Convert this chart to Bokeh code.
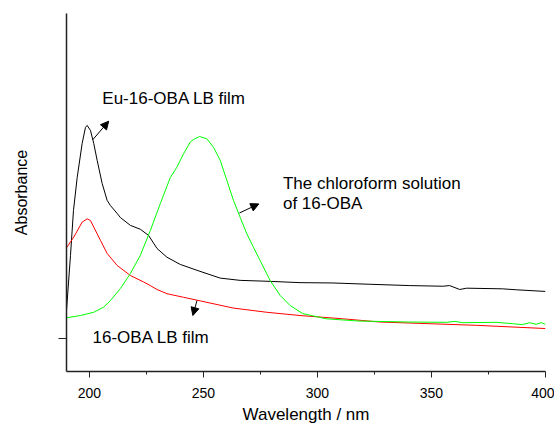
from bokeh.plotting import figure
from bokeh.models import Range1d, FixedTicker, Arrow, NormalHead, ColumnDataSource
from bokeh.core.properties import value
from bokeh.embed import file_html
from bokeh.resources import INLINE

# Eu-16-OBA LB film (black)
eu_wl = [190.0, 191.75, 193.06, 194.68, 196.87, 198.31, 199.06, 200.5, 201.94, 203.43,
         205.62, 207.81, 209.25, 212.18, 213.63, 218.0, 222.38, 226.0, 229.68, 234.06,
         239.88, 247.18, 257.38, 266.13, 279.25, 292.38, 306.81, 323.0, 340.5, 354.94,
         358.0, 362.38, 365.44, 381.19, 387.31, 400.0]
eu_abs = [0.088, 0.257, 0.395, 0.496, 0.601, 0.650, 0.656, 0.641, 0.601, 0.549,
          0.478, 0.426, 0.410, 0.386, 0.373, 0.349, 0.337, 0.318, 0.278, 0.251,
          0.229, 0.211, 0.187, 0.180, 0.177, 0.173, 0.172, 0.168, 0.164, 0.162,
          0.164, 0.152, 0.156, 0.154, 0.151, 0.146]

# 16-OBA LB film (red)
lb_wl = [190.0, 193.19, 196.87, 199.06, 200.5, 201.94, 204.88, 207.81, 212.18, 218.0,
         223.82, 226.75, 229.68, 234.06, 241.32, 248.63, 263.06, 277.81, 292.38, 311.06,
         327.38, 340.06, 369.38, 400.0]
lb_abs = [0.280, 0.313, 0.359, 0.369, 0.364, 0.344, 0.303, 0.263, 0.226, 0.195,
          0.175, 0.164, 0.152, 0.139, 0.128, 0.117, 0.095, 0.082, 0.072, 0.062,
          0.052, 0.049, 0.042, 0.032]

# Chloroform solution of 16-OBA (green)
cs_wl = [190.0, 196.13, 201.94, 206.32, 209.25, 213.63, 218.0, 222.38, 226.75, 231.13,
         235.5, 238.43, 241.32, 244.25, 245.69, 248.32, 251.56, 254.44, 257.38, 260.31,
         263.19, 266.13, 269.06, 271.94, 274.88, 279.25, 283.63, 288.0, 293.56, 303.75,
         318.19, 340.06, 356.56, 360.19, 363.69, 378.43, 385.56, 389.94, 393.0, 395.93,
         398.12, 400.0]
cs_abs = [0.065, 0.072, 0.082, 0.098, 0.118, 0.155, 0.201, 0.257, 0.333, 0.416,
          0.496, 0.528, 0.569, 0.605, 0.613, 0.622, 0.615, 0.589, 0.549, 0.487,
          0.426, 0.374, 0.323, 0.282, 0.241, 0.180, 0.134, 0.103, 0.078, 0.062,
          0.055, 0.052, 0.051, 0.054, 0.050, 0.051, 0.047, 0.044, 0.050, 0.045,
          0.050, 0.045]

x_ticks = [200, 250, 300, 350, 400]
x_minor = [225, 275, 325, 375]
y_ticks = [0]

# annotations
ann_text = ["Eu-16-OBA LB film", "The chloroform solution", "of 16-OBA", "16-OBA LB film"]
ann_x = [205.7, 284.9, 284.9, 201.4]
ann_y = [0.739, 0.479, 0.417, 0.003]

arr_x0 = [201.5, 265.8, 247.2]
arr_y0 = [0.612, 0.387, 0.118]
arr_x1 = [208.5, 274.3, 245.4]
arr_y1 = [0.669, 0.415, 0.072]

p = figure(output_backend="svg", toolbar_location=None,
           frame_width=479, frame_height=358,
           min_border_left=66, min_border_top=13, min_border_right=9, min_border_bottom=50,
           x_range=Range1d(190, 400), y_range=Range1d(-0.1, 1.0))
p.outline_line_color = None
p.grid.visible = False
p.background_fill_color = "white"

p.line(eu_wl, eu_abs, line_color="black", line_width=1)
p.line(lb_wl, lb_abs, line_color="#ff0000", line_width=1)
p.line(cs_wl, cs_abs, line_color="#00ff00", line_width=1)

src = ColumnDataSource(dict(x=ann_x, y=ann_y, t=ann_text))
p.text(x="x", y="y", text="t", source=src, text_font=value("Liberation Sans"),
       text_font_size="17px", text_baseline="alphabetic", text_align="left", text_color="black")

for i in range(len(arr_x0)):
    p.add_layout(Arrow(end=NormalHead(size=8, fill_color="black", line_color="black", line_width=1),
                       x_start=arr_x0[i], y_start=arr_y0[i], x_end=arr_x1[i], y_end=arr_y1[i],
                       line_color="black", line_width=1))

xa = p.xaxis[0]
xa.ticker = FixedTicker(ticks=x_ticks, minor_ticks=x_minor)
xa.axis_label = "Wavelength / nm"
xa.axis_label_text_font = "Liberation Sans"
xa.axis_label_text_font_size = "17px"
xa.axis_label_text_font_style = "normal"
xa.axis_label_text_color = "black"
xa.axis_label_standoff = 4
xa.major_label_text_font = "Liberation Sans"
xa.major_label_text_font_size = "14px"
xa.major_label_text_color = "black"
xa.major_label_standoff = 10
xa.major_tick_in = 0
xa.major_tick_out = 6
xa.minor_tick_in = 0
xa.minor_tick_out = 3
xa.axis_line_width = 1.5
xa.axis_line_color = "#222222"
xa.major_tick_line_color = "#222222"
xa.minor_tick_line_color = "#222222"

ya = p.yaxis[0]
ya.ticker = FixedTicker(ticks=y_ticks, minor_ticks=[])
ya.major_label_overrides = {0: ""}
ya.axis_label = "Absorbance"
ya.axis_label_text_font = "Liberation Sans"
ya.axis_label_text_font_size = "16px"
ya.axis_label_text_font_style = "normal"
ya.axis_label_text_color = "black"
ya.axis_label_standoff = 29
ya.major_tick_in = 0
ya.major_tick_out = 8
ya.minor_tick_in = 0
ya.minor_tick_out = 0
ya.axis_line_width = 1.5
ya.axis_line_color = "#222222"
ya.major_tick_line_color = "#222222"

open("out.html", "w").write(file_html(p, INLINE))
